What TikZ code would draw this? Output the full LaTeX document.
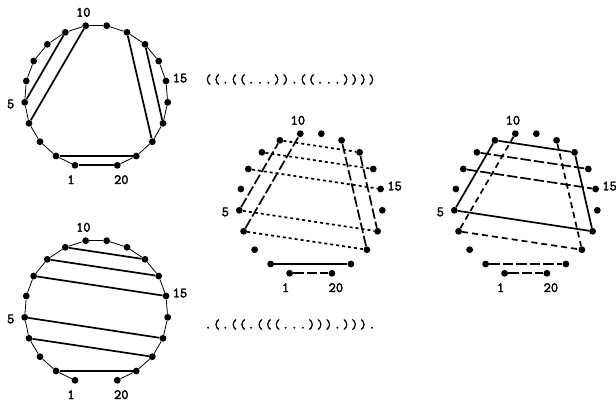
\documentclass[tikz,border=0pt]{standalone}
\usepackage{fontspec}
\newfontfamily\numfont{Latin Modern Mono}[FakeBold=2.5]
\newfontfamily\seqfont{Latin Modern Mono}[FakeBold=3,LetterSpace=14.8]

% one ring: dots and numbers, named #1 plus index
\newcommand{\ringdots}[3]{
  \foreach \i/\px/\py in {1/75/165.3,2/56/156,3/40/141.7,4/29/123.3,5/24.7/102.3,
      6/26.3/81,7/33.7/61,8/47.3/44.3,9/65.3/32.3,10/85.7/25.7,11/106.7/25.7,
      12/127/32.3,13/145/44.3,14/158.7/61,15/166/81,16/167.7/102.3,17/163/123.3,
      18/152.3/141.7,19/136.3/156,20/117.3/165.3}
    \node[dot] (#1\i) at (\px+#2,\py+#3) {};
  \node[num] (#1l1) at (71+#2,179.7+#3) {1};
  \node[num] (#1l5) at (10.7+#2,104+#3) {5};
  \node[num] (#1l10) at (83.3+#2,12.3+#3) {10};
  \node[num] (#1l15) at (180+#2,78+#3) {15};
  \node[num] (#1l20) at (121.3+#2,179.7+#3) {20};
}

\tikzset{
  dot/.style={circle,fill=black,inner sep=0pt,minimum size=6.8pt},
  num/.style={inner sep=0pt,font=\numfont\fontsize{14}{14}\selectfont},
  seq/.style={inner sep=0pt,font=\seqfont\fontsize{13}{13}\selectfont},
  ring/.style={line width=0.8pt},
  chord/.style={line width=1.7pt},
  longdash/.style={line width=1.7pt,dash pattern=on 10.5pt off 3pt},
  middash/.style={line width=1.7pt,dash pattern=on 6pt off 4pt},
  shortdot/.style={line width=1.7pt,dash pattern=on 3pt off 3pt}
}

\begin{document}
\begin{tikzpicture}[x=1pt,y=-1pt]
  \useasboundingbox (0,0) rectangle (616,405);

  % Top left ring
  \ringdots{a}{0}{0}
  \foreach \i [remember=\i as \k (initially 1)] in {2,...,20}
    \draw[ring] (a\k) -- (a\i);
  \foreach \i/\j in {1/20,2/19,4/10,5/9,12/18,13/17}
    \draw[chord] (a\i) -- (a\j);

  % Bottom left ring
  \ringdots{b}{0}{215}
  \foreach \i [remember=\i as \k (initially 1)] in {2,...,20}
    \draw[ring] (b\k) -- (b\i);
  \foreach \i/\j in {2/19,4/18,5/17,7/15,8/14,9/13}
    \draw[chord] (b\i) -- (b\j);

  % Middle dots
  \ringdots{c}{214.6}{108}
  \draw[chord] (c2) -- (c19);
  \foreach \i/\j in {1/20,4/10,5/9,12/18,13/17}
    \draw[longdash] (c\i) -- (c\j);
  \foreach \i/\j in {4/18,5/17,7/15,8/14,9/13}
    \draw[shortdot] (c\i) -- (c\j);

  % Right dots
  \ringdots{d}{429.6}{108}
  \foreach \i/\j in {5/9,9/13,13/17,5/17}
    \draw[chord] (d\i) -- (d\j);
  \foreach \i/\j in {1/20,2/19,7/15,8/14}
    \draw[longdash] (d\i) -- (d\j);
  \foreach \i/\j in {4/10,4/18,12/18}
    \draw[middash] (d\i) -- (d\j);

  % Bracket strings
  \node[seq] (seqa) at (290,79.5) {((.((...)).((...))))};
  \node[seq] (seqb) at (290,324.5) {.(.((.(((...))).))).};
\end{tikzpicture}
\end{document}
